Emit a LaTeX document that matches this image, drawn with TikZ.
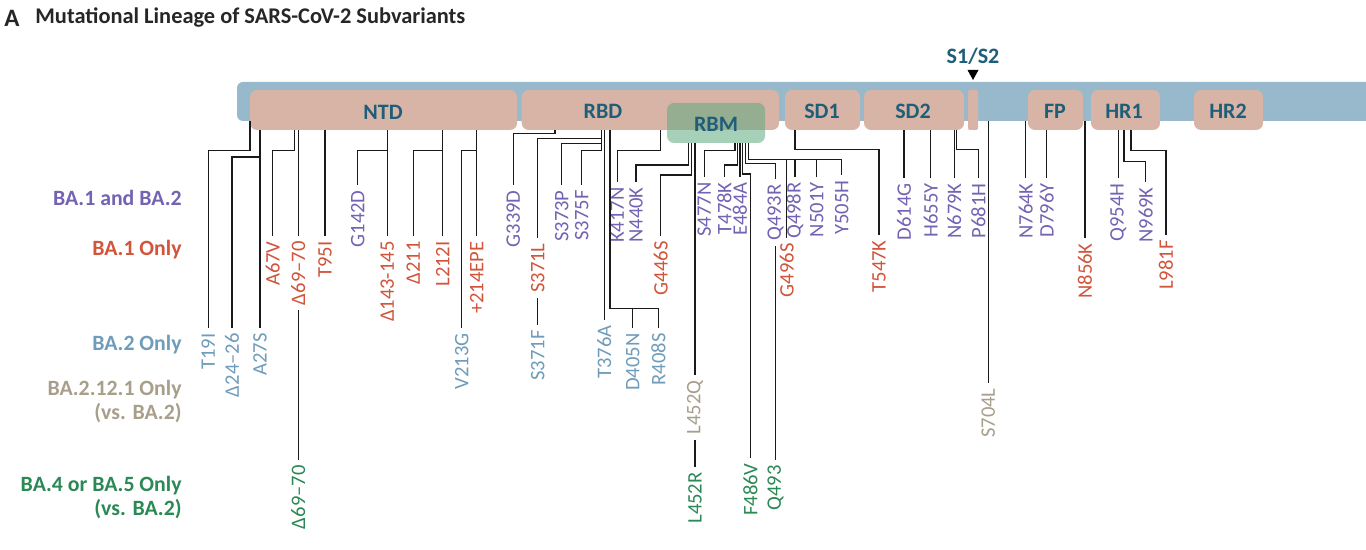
\documentclass[tikz,border=0pt]{standalone}
\usepackage{fontspec}
\setmainfont{Carlito}
\usetikzlibrary{fit}
\definecolor{cbar}{HTML}{98B9CB}
\definecolor{cpink}{HTML}{D8B4A6}
\definecolor{crbm}{HTML}{5FAA80}
\definecolor{cteal}{HTML}{1E5E78}
\definecolor{cboth}{HTML}{7363B2}
\definecolor{cbaone}{HTML}{D2543A}
\definecolor{cbatwo}{HTML}{6F9CBA}
\definecolor{ctan}{HTML}{A89F8B}
\definecolor{cgreen}{HTML}{2B8955}
\definecolor{cline}{HTML}{1A1A1A}
\newcommand{\labfont}{\fontsize{10.3}{12}\selectfont}
\newcommand{\domfont}{\bfseries\fontsize{11}{13}\selectfont}
\newcommand{\grpfont}{\bfseries\fontsize{10.9}{12}\selectfont}
\newcommand{\ttlfont}{\bfseries\fontsize{11.2}{13}\selectfont}
\tikzset{
  mut/.style={rotate=90, anchor=east, inner xsep=2.5pt, inner ysep=0pt, font=\labfont},
  lblboth/.style={mut, text=cboth},
  lblone/.style={mut, text=cbaone},
  lbltwo/.style={mut, text=cbatwo},
  lbltan/.style={mut, text=ctan},
  lblgreen/.style={mut, text=cgreen},
  conn/.style={draw=cline, line width=0.72pt},
  dombox/.style={fill=cpink, rounded corners=3.5pt, inner sep=0pt},
  domlabel/.style={text=cteal, font=\domfont, inner sep=0pt},
  grplabel/.style={anchor=east, align=right, font=\grpfont, inner sep=0pt},
}
\begin{document}
\begin{tikzpicture}[x=0.5pt,y=-0.5pt]
\useasboundingbox (0,0) rectangle (1366,550);
\fill[white] (0,0) rectangle (1366,550);
\clip (0,0) rectangle (1366,550);

% title
\node[anchor=west, inner sep=0pt, font=\bfseries\fontsize{12.5}{14}\selectfont, text=black!85] (ttla) at (4,18) {A};
\node[anchor=west, inner sep=0pt, font=\ttlfont, text=black!85] (ttl) at (35,18) {Mutational Lineage of SARS-CoV-2 Subvariants};

% protein bar and domains
\node[fit={(237,82) (1390,121)}, fill=cbar, rounded corners=3pt, inner sep=0pt] (bar) {};
\node[dombox, fit={(250,90) (517,130)}] (ntd) {};
\node[dombox, fit={(521.7,90) (779,130)}] (rbd) {};
\node[dombox, fit={(785,90) (860,130)}] (sd1) {};
\node[dombox, fit={(864,90) (964,130)}] (sd2) {};
\node[dombox, fit={(968,90) (978,130)}, rounded corners=1pt] (sdx) {};
\node[dombox, fit={(1028,90) (1083,130)}] (fp) {};
\node[dombox, fit={(1091,90) (1160,130)}] (hr1) {};
\node[dombox, fit={(1194,90) (1263,130)}] (hr2) {};
\node[fit={(667,103) (765,143)}, fill=crbm, fill opacity=0.55, rounded corners=3.5pt, inner sep=0pt] (rbm) {};

\node[domlabel] (ntdl) at (383,112) {NTD};
\node[domlabel] (rbdl) at (603,111) {RBD};
\node[domlabel] (rbml) at (716,124) {RBM};
\node[domlabel] (sd1l) at (822,111) {SD1};
\node[domlabel] (sd2l) at (913,111) {SD2};
\node[domlabel] (fpl) at (1055,111) {FP};
\node[domlabel] (hr1l) at (1124,111) {HR1};
\node[domlabel] (hr2l) at (1228,111) {HR2};
\node[domlabel] (s12) at (973,56) {S1/S2};
\fill[black] (967.5,70) -- (978.5,70) -- (973,80) -- cycle;

% group labels
\node[grplabel, text=cboth] (gboth) at (182,198) {BA.1 and BA.2};
\node[grplabel, text=cbaone] (gone) at (182,250) {BA.1 Only};
\node[grplabel, text=cbatwo] (gtwo) at (182,345) {BA.2 Only};
\node[grplabel, text=ctan] (gtan) at (182,402) {BA.2.12.1 Only\\(vs. BA.2)};
\node[grplabel, text=cgreen] (ggreen) at (182,498) {BA.4 or BA.5 Only\\(vs. BA.2)};

% BA.1 and BA.2 labels
\node[lblboth] (g142d) at (357.7,185) {G142D};
\node[lblboth] (g339d) at (513.3,185) {G339D};
\node[lblboth] (s373p) at (561.7,185) {S373P};
\node[lblboth] (s375f) at (581.7,185) {S375F};
\node[lblboth] (k417n) at (617.3,182) {K417N};
\node[lblboth] (n440k) at (636,182) {N440K};
\node[lblboth] (s477n) at (704.3,177) {S477N};
\node[lblboth] (t478k) at (724.3,177) {T478K};
\node[lblboth] (e484a) at (740,177) {E484A};
\node[lblboth] (q493r) at (775.5,179) {Q493R};
\node[lblboth] (q498r) at (795,177) {Q498R};
\node[lblboth] (n501y) at (816.7,177) {N501Y};
\node[lblboth] (y505h) at (841.7,175) {Y505H};
\node[lblboth] (d614g) at (904,178) {D614G};
\node[lblboth] (h655y) at (930.7,178) {H655Y};
\node[lblboth] (n679k) at (954.3,178) {N679K};
\node[lblboth] (p681h) at (978.3,178) {P681H};
\node[lblboth] (n764k) at (1025.7,178) {N764K};
\node[lblboth] (d796y) at (1046.7,178) {D796Y};
\node[lblboth] (q954h) at (1118.3,178) {Q954H};
\node[lblboth] (n969k) at (1145.7,182) {N969K};

% BA.1 only labels
\node[lblone] (a67v) at (272.7,236) {A67V};
\node[lblone] (d6970) at (298.3,236) {Δ69–70};
\node[lblone] (t95i) at (325,236) {T95I};
\node[lblone] (d143) at (387.3,236) {Δ143-145};
\node[lblone] (d211) at (413.3,236) {Δ211};
\node[lblone] (l212i) at (442.7,236) {L212I};
\node[lblone] (ins214) at (476.7,236) {+214EPE};
\node[lblone] (s371l) at (537.7,238) {S371L};
\node[lblone] (g446s) at (660.7,236) {G446S};
\node[lblone] (g496s) at (786.7,238) {G496S};
\node[lblone] (t547k) at (879,235) {T547K};
\node[lblone] (n856k) at (1085,238) {N856K};
\node[lblone] (l981f) at (1166,235) {L981F};

% BA.2 only labels
\node[lbltwo] (t19i) at (208.3,328) {T19I};
\node[lbltwo] (d2426) at (232,328) {Δ24–26};
\node[lbltwo] (a27s) at (260,328) {A27S};
\node[lbltwo] (v213g) at (461.7,328) {V213G};
\node[lbltwo] (s371f) at (537.7,325) {S371F};
\node[lbltwo] (t376a) at (604.3,320) {T376A};
\node[lbltwo] (d405n) at (632.7,328) {D405N};
\node[lbltwo] (r408s) at (658.3,328) {R408S};

% BA.2.12.1 labels
\node[lbltan] (l452q) at (695,375) {L452Q};
\node[lbltan] (s704l) at (988.3,383) {S704L};

% BA.4/BA.5 labels
\node[lblgreen] (d6970g) at (298.3,460) {Δ69–70};
\node[lblgreen] (l452r) at (695,467) {L452R};
\node[lblgreen] (f486v) at (750.5,458) {F486V};
\node[lblgreen] (q493) at (775.5,460) {Q493};

% connectors: NTD
\draw[conn] (bar.south -| 250,0) |- (208.3,150.7) -- (t19i.east);
\draw[conn] (ntd.south -| 260,0) |- (232,157) -- (d2426.east);
\draw[conn] (ntd.south -| 260,0) -- (a27s.east);
\draw[conn] (ntd.south -| 294.3,0) |- (272.7,150.7) -- (a67v.east);
\draw[conn] (ntd.south -| 298.3,0) -- (d6970.east);
\draw[conn] (d6970.west) -- (d6970g.east);
\draw[conn] (ntd.south -| 325,0) -- (t95i.east);
\draw[conn] (ntd.south -| 387.3,0) |- (357.7,150.7) -- (g142d.east);
\draw[conn] (ntd.south -| 387.3,0) -- (d143.east);
\draw[conn] (ntd.south -| 442.7,0) |- (413.3,150.7) -- (d211.east);
\draw[conn] (ntd.south -| 442.7,0) -- (l212i.east);
\draw[conn] (ntd.south -| 476.7,0) -- (ins214.east);
\draw[conn] (ntd.south -| 476.7,0) |- (461.7,150.7) -- (v213g.east);
% RBD
\draw[conn] (rbd.south -| 555,0) |- (513.3,133.3) -- (g339d.east);
\draw[conn] (rbd.south -| 601.7,0) |- (537.7,138.3) -- (s371l.east);
\draw[conn] (s371l.west) -- (s371f.east);
\draw[conn] (rbd.south -| 601.7,0) |- (561.7,143.3) -- (s373p.east);
\draw[conn] (rbd.south -| 601.7,0) |- (581.7,150.7) -- (s375f.east);
\draw[conn] (rbd.south -| 604.3,0) -- (t376a.east);
\draw[conn] (rbd.south -| 610,0) |- (632.7,308.3) -- (d405n.east);
\draw[conn] (rbd.south -| 610,0) |- (658.3,308.3) -- (r408s.east);
\draw[conn] (rbd.south -| 660.7,0) |- (617.3,150.7) -- (k417n.east);
% RBM
\draw[conn] (rbm.south -| 688.3,0) |- (636,165) -- (n440k.east);
\draw[conn] (rbm.south -| 691.7,0) |- (660.7,175) -- (g446s.east);
\draw[conn] (rbm.south -| 695,0) -- (l452q.east);
\draw[conn] (l452q.west) -- (l452r.east);
\draw[conn] (rbm.south -| 735,0) |- (704.3,150.7) -- (s477n.east);
\draw[conn] (rbm.south -| 737.5,0) |- (724.3,165) -- (t478k.east);
\draw[conn] (rbm.south -| 740,0) -- (e484a.east);
\draw[conn] (rbm.south -| 742.7,0) |- (750.5,174) -- (f486v.east);
\draw[conn] (rbm.south -| 745.3,0) |- (775.5,163.3) -- (q493r.east);
\draw[conn] (q493r.west) -- (q493.east);
\draw[conn] (rbm.south -| 748.3,0) |- (786.7,159.3) -- (g496s.east);
\draw[conn] (rbm.south -| 748.3,0) |- (795,159.3) -- (q498r.east);
\draw[conn] (rbm.south -| 748.3,0) |- (816.7,159.3) -- (n501y.east);
\draw[conn] (rbm.south -| 748.3,0) |- (841.7,159.3) -- (y505h.east);
% SD1, SD2
\draw[conn] (sd1.south -| 795,0) |- (879,149.3) -- (t547k.east);
\draw[conn] (sd2.south -| 904,0) -- (d614g.east);
\draw[conn] (sd2.south -| 930.7,0) -- (h655y.east);
\draw[conn] (sd2.south -| 954.3,0) -- (n679k.east);
\draw[conn] (sd2.south -| 956.7,0) |- (978.3,149.3) -- (p681h.east);
% S2
\draw[conn] (bar.south -| 988.3,0) -- (s704l.east);
\draw[conn] (bar.south -| 1025.7,0) -- (n764k.east);
\draw[conn] (fp.south -| 1046.7,0) -- (d796y.east);
\draw[conn] (bar.south -| 1085,0) -- (n856k.east);
\draw[conn] (hr1.south -| 1118.3,0) -- (q954h.east);
\draw[conn] (hr1.south -| 1124,0) |- (1145.7,161.7) -- (n969k.east);
\draw[conn] (hr1.south -| 1131,0) |- (1166,150.7) -- (l981f.east);
\end{tikzpicture}
\end{document}
